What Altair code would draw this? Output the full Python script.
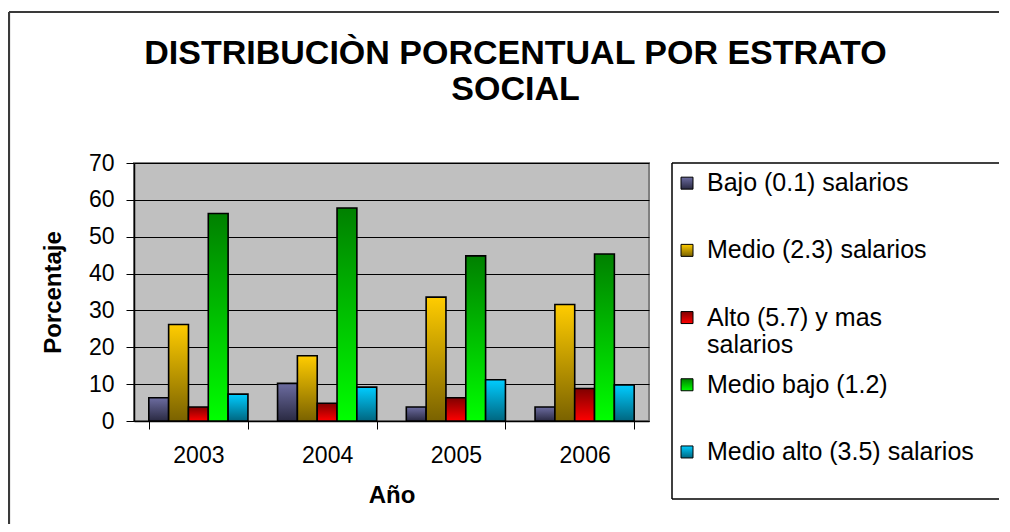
import altair as alt
import pandas as pd

FONT = "Liberation Sans"

years = ["2003", "2004", "2005", "2006"]
series = [
    "Bajo (0.1) salarios",
    "Medio (2.3) salarios",
    "Alto (5.7) y mas salarios",
    "Medio bajo (1.2)",
    "Medio alto (3.5) salarios",
]
bajo = [6.3, 10.2, 3.8, 3.8]
medio = [26.2, 17.7, 33.6, 31.6]
alto = [3.8, 4.8, 6.3, 8.8]
medio_bajo = [56.3, 57.8, 44.8, 45.3]
medio_alto = [7.3, 9.2, 11.2, 9.8]

legend_line1 = ["Bajo (0.1) salarios", "Medio (2.3) salarios", "Alto (5.7) y mas",
                "Medio bajo (1.2)", "Medio alto (3.5) salarios"]
legend_line2 = ["", "", "salarios", "", ""]

top_colors = ["#6c6ca0", "#ffcc00", "#800000", "#008000", "#00ccff"]
bottom_colors = ["#2a2a42", "#7a6200", "#ff0000", "#00ff00", "#006680"]

values = [bajo, medio, alto, medio_bajo, medio_alto]
rows = []
for s, vals in zip(series, values):
    for y, v in zip(years, vals):
        rows.append({"Anio": y, "Serie": s, "Valor": v})
df = pd.DataFrame(rows)

leg_df = pd.DataFrame({"Serie": series, "l1": legend_line1, "l2": legend_line2})


def grad(i):
    return alt.LinearGradient(
        gradient="linear",
        stops=[alt.GradientStop(color=top_colors[i], offset=0),
               alt.GradientStop(color=bottom_colors[i], offset=1)],
        x1=0, x2=0, y1=0, y2=1,
    )


x_axis = alt.Axis(title="Año", tickBand="extent", labelAngle=0, tickSize=8,
                  labelPadding=15, titlePadding=16, domainColor="black",
                  tickColor="black", domainWidth=1.5)
y_axis = alt.Axis(title="Porcentaje", values=list(range(0, 71, 10)), tickSize=8,
                  labelPadding=12, titlePadding=23, grid=True, gridColor="black",
                  gridWidth=1, domainColor="black", tickColor="black", domainWidth=1.5)

x_enc = alt.X("Anio:N", sort=years,
              scale=alt.Scale(domain=years, paddingInner=0.23, paddingOuter=0.115),
              axis=x_axis)
y_enc = alt.Y("Valor:Q", scale=alt.Scale(domain=[0, 70], nice=False), axis=y_axis)
xo_enc = alt.XOffset("Serie:N", sort=series,
                     scale=alt.Scale(domain=series, paddingInner=0, paddingOuter=0))

bar_layers = []
for i, s in enumerate(series):
    bar_layers.append(
        alt.Chart(df)
        .transform_filter(alt.datum.Serie == s)
        .mark_bar(fill=grad(i), stroke="black", strokeWidth=1.6)
        .encode(x=x_enc, y=y_enc, xOffset=xo_enc)
    )

bars = alt.layer(*bar_layers).properties(
    width=515,
    height=258,
    view=alt.ViewBackground(fill="#c0c0c0", stroke="#808080", strokeWidth=2),
    title=alt.TitleParams(
        text=["DISTRIBUCIÒN PORCENTUAL POR ESTRATO", "SOCIAL"],
        fontSize=34, font=FONT, fontWeight="bold", color="black",
        anchor="middle", frame="group", dx=124, offset=45, lineHeight=36,
    ),
)

ly = alt.Y("Serie:N", sort=series,
           scale=alt.Scale(type="point", domain=series, padding=0.5, align=0.3),
           axis=None)

one = alt.Data(values=[{"k": 1}])
# legend box (top, left, bottom edges; it runs on towards the right edge of the picture)
box_top = alt.Chart(one).mark_rule(stroke="black", strokeWidth=1.5).encode(
    x=alt.value(0), x2=alt.value(327), y=alt.value(0))
box_left = alt.Chart(one).mark_rule(stroke="black", strokeWidth=1.5).encode(
    x=alt.value(0), y=alt.value(0), y2=alt.value(336))
box_bottom = alt.Chart(one).mark_rule(stroke="black", strokeWidth=1.5).encode(
    x=alt.value(0), x2=alt.value(327), y=alt.value(336))
# outer chart-area frame (top and left edges)
frame_top = alt.Chart(one).mark_rule(stroke="#3a3a3a", strokeWidth=2.2).encode(
    x=alt.value(-663), x2=alt.value(327), y=alt.value(-151))
frame_left = alt.Chart(one).mark_rule(stroke="#3a3a3a", strokeWidth=2.2).encode(
    x=alt.value(-663), y=alt.value(-151), y2=alt.value(361))

leg_layers = [box_top, box_left, box_bottom, frame_top, frame_left]
for i, s in enumerate(series):
    leg_layers.append(
        alt.Chart(leg_df)
        .transform_filter(alt.datum.Serie == s)
        .mark_square(size=144, fill=grad(i), stroke="black", strokeWidth=1, opacity=1)
        .encode(x=alt.value(15), y=ly)
    )
text1 = alt.Chart(leg_df).mark_text(
    align="left", baseline="middle", fontSize=25, font=FONT, color="black"
).encode(x=alt.value(35), y=ly, text="l1:N")
text2 = alt.Chart(leg_df).mark_text(
    align="left", baseline="middle", fontSize=25, font=FONT, color="black", dy=27
).encode(x=alt.value(35), y=ly, text="l2:N")
leg_layers += [text1, text2]

legend = alt.layer(*leg_layers).properties(
    width=300, height=336,
    view=alt.ViewBackground(fill="white", stroke="transparent"),
)

chart = (
    alt.hconcat(bars, legend, spacing=23, bounds="flush")
    .properties(
        autosize=alt.AutoSizeParams(type="none"),
        padding={"left": 126, "top": 155, "right": 868, "bottom": 361},
        background="white",
    )
    .configure_axis(
        labelFont=FONT, labelFontSize=23, labelColor="black",
        titleFont=FONT, titleFontSize=24, titleFontWeight="bold", titleColor="black",
    )
    .configure_view(stroke="transparent")
)

chart.save("out.html", embed_options={"renderer": "svg", "actions": False})
